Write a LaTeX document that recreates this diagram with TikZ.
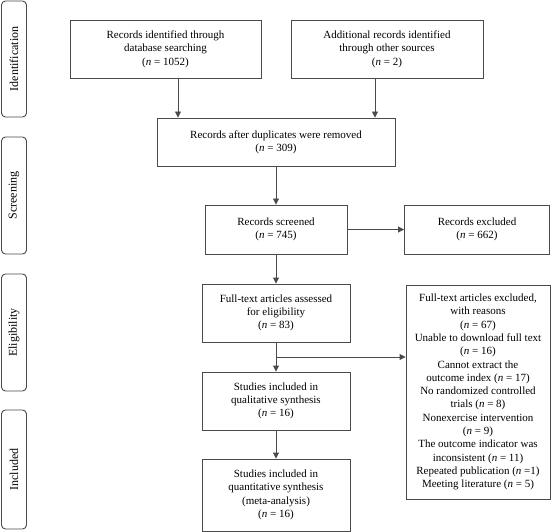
\documentclass[tikz,border=0pt]{standalone}
\usepackage{fontspec}
\setmainfont{Liberation Serif}
\usetikzlibrary{arrows.meta}
\definecolor{lc}{HTML}{4A4A4A}
\begin{document}
\begin{tikzpicture}[x=1pt,y=-1pt,
  box/.style={draw=lc,line width=0.9pt,align=center,font=\fontsize{11}{13.3}\selectfont,inner sep=0pt},
  side/.style={draw=lc,line width=0.9pt,rounded corners=4pt,rotate=90,font=\fontsize{12}{12}\selectfont,inner sep=0pt},
  arr/.style={draw=lc,line width=0.9pt,-{Triangle[length=6pt,width=6pt]}}]
\useasboundingbox (0,0) rectangle (552,532);
% side labels
\node[side,minimum width=116pt,minimum height=25pt] (sid) at (14,59) {Identification};
\node[side,minimum width=117pt,minimum height=25pt] (sscr) at (14,195.5) {Screening};
\node[side,minimum width=117pt,minimum height=25pt] (seli) at (14,332.5) {Eligibility};
\node[side,minimum width=119pt,minimum height=25pt] (sinc) at (14,469.5) {Included};
% boxes
\node[box,minimum width=191pt,minimum height=58pt] (db) at (165.5,49) {Records identified through\\database searching\\(\textit{n} = 1052)};
\node[box,minimum width=192pt,minimum height=58pt] (oth) at (387,49) {Additional records identified\\through other sources\\(\textit{n} = 2)};
\node[box,minimum width=238pt,minimum height=48pt] (dup) at (276,142) {Records after duplicates were removed\\(\textit{n} = 309)};
\node[box,minimum width=142pt,minimum height=49pt] (scr) at (276,229.5) {Records screened\\(\textit{n} = 745)};
\node[box,minimum width=145pt,minimum height=49pt] (exc) at (477,229.5) {Records excluded\\(\textit{n} = 662)};
\node[box,minimum width=148pt,minimum height=58pt] (ft) at (276,313) {Full-text articles assessed\\for eligibility\\(\textit{n} = 83)};
\node[box,minimum width=148pt,minimum height=58pt] (qual) at (276,401) {Studies included in\\qualitative synthesis\\(\textit{n} = 16)};
\node[box,minimum width=148pt,minimum height=72pt] (quan) at (276,495) {Studies included in\\quantitative synthesis\\(meta-analysis)\\(\textit{n} = 16)};
\node[box,minimum width=144pt,minimum height=214pt] (ftx) at (478,392) {Full-text articles excluded,\\with reasons\\(\textit{n} = 67)\\Unable to download full text\\(\textit{n} = 16)\\Cannot extract the\\outcome index (\textit{n} = 17)\\No randomized controlled\\trials (\textit{n} = 8)\\Nonexercise intervention\\(\textit{n} = 9)\\The outcome indicator was\\inconsistent (\textit{n} = 11)\\Repeated publication (\textit{n} =1)\\Meeting literature (\textit{n} = 5)};
% connectors
\coordinate (a1) at (178,78);
\coordinate (a2) at (375,78);
\draw[arr] (a1) -- (a1 |- dup.north);
\draw[arr] (a2) -- (a2 |- dup.north);
\draw[arr] (dup) -- (scr);
\draw[arr] (scr) -- (exc);
\draw[arr] (scr) -- (ft);
\draw[arr] (ft) -- (qual);
\draw[arr] (qual) -- (quan);
\coordinate (br) at (276,357);
\draw[arr] (br) -- (br -| ftx.west);
\end{tikzpicture}
\end{document}
